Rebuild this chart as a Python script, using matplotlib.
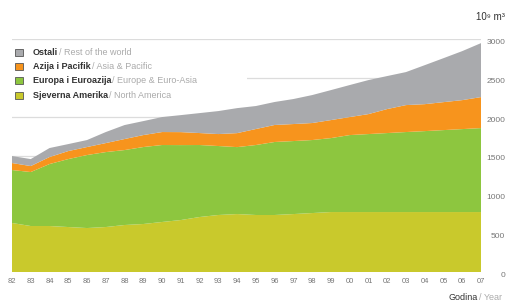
import numpy as np
import matplotlib.pyplot as plt
from matplotlib.patches import Rectangle

plt.rcParams['font.family'] = ['Liberation Sans', 'DejaVu Sans']

years = np.arange(1982, 2008)
year_labels = [str(y)[2:] for y in years]

# consumption, 10^9 m3
north_america = [631, 592, 592, 579, 566, 579, 605, 618, 644, 669, 708, 734, 746,
                 734, 734, 746, 759, 772, 772, 772, 772, 772, 772, 772, 772, 772]
europe = [682, 695, 798, 875, 940, 965, 965, 991, 991, 965, 927, 888, 862,
          901, 940, 940, 940, 952, 991, 1004, 1017, 1030, 1042, 1055, 1068, 1081]
asia = [90, 77, 90, 103, 103, 116, 142, 154, 167, 167, 154, 154, 180,
        206, 219, 219, 219, 232, 232, 257, 309, 347, 347, 360, 373, 399]
rest = [90, 90, 116, 90, 90, 142, 180, 180, 193, 219, 257, 296, 322,
        296, 296, 322, 360, 386, 412, 438, 425, 425, 502, 566, 631, 695]

colors = ['#c9c92c', '#8dc63f', '#f7941d', '#a9aaad']
names_hr = ['Ostali', 'Azija i Pacifik', 'Europa i Euroazija', 'Sjeverna Amerika']
names_en = ['/ Rest of the world', '/ Asia & Pacific', '/ Europe & Euro-Asia', '/ North America']

fig = plt.figure(figsize=(5.08, 3.06), dpi=100)
ax = fig.add_axes([12/508, 1 - 272/306, (481 - 12)/508, (272 - 39)/306])
ax.set_facecolor('none')

ax.stackplot(years, north_america, europe, asia, rest, colors=colors, lw=0, zorder=1)

ax.set_xlim(1982, 2007)
ax.set_ylim(0, 3000)
ax.set_xticks(years)
ax.set_xticklabels(year_labels, fontsize=5.5, color='#777777')
ax.yaxis.tick_right()
ax.set_yticks(np.arange(0, 3001, 500))
ax.tick_params(axis='x', length=0, pad=4.5)
ax.tick_params(axis='y', length=0, pad=17.5, labelsize=6, labelcolor='#777777')
for lab in ax.get_yticklabels():
    lab.set_horizontalalignment('right')
    lab.set_verticalalignment('top')
for s in ax.spines.values():
    s.set_visible(False)
ax.set_axisbelow(True)
ax.grid(axis='y', color='#dcdcdc', lw=0.9)
ax.grid(axis='x', visible=False)

# white box behind the legend
ax.add_patch(Rectangle((0, 0.75), 0.5, 0.24, transform=ax.transAxes,
                       facecolor='white', edgecolor='none', zorder=0.8))

# legend
row_y = [52.7, 66.5, 80.7, 95.5]
for c, hr, en, y in zip(colors[::-1], names_hr, names_en, row_y):
    fy = 1 - y / 306
    fig.patches.append(Rectangle((15/508, fy - 3.5/306), 8/508, 7/306,
                                 transform=fig.transFigure, facecolor=c,
                                 edgecolor='#555555', lw=0.6))
    t = fig.text(33/508, fy, hr, fontsize=6.5, fontweight='bold', color='#333333',
                 va='center', ha='left')
    fig.canvas.draw()
    ext = t.get_window_extent()
    fig.text(ext.x1 / 508 + 1/508, fy, en, fontsize=6.5, color='#aaaaaa',
             va='center', ha='left')

fig.text(505/508, 1 - 17/306, '10⁹ m³', fontsize=7, color='#333333',
         ha='right', va='center')
g = fig.text(478/508, 1 - 297/306, 'Godina', fontsize=6.5, color='#333333',
             ha='right', va='center')
fig.text(479/508, 1 - 297/306, '/ Year', fontsize=6.5, color='#aaaaaa',
         ha='left', va='center')

fig.savefig('out.png', dpi=100)
